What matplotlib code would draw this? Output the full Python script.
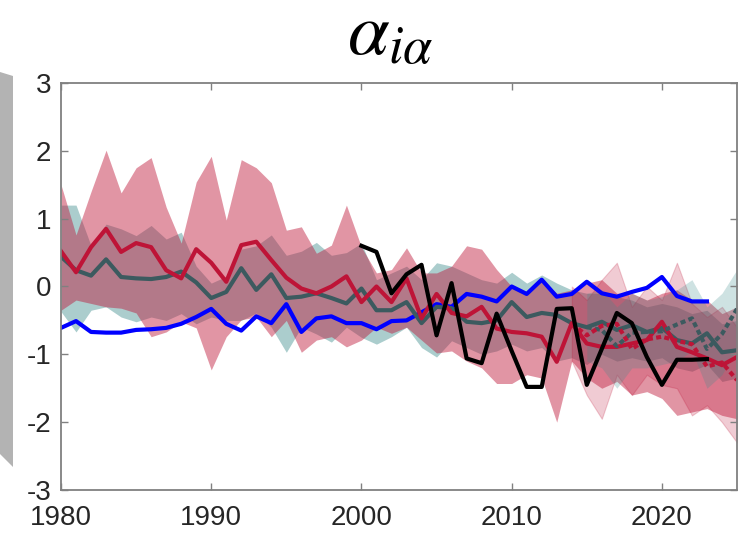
import matplotlib
matplotlib.use('Agg')
import matplotlib.pyplot as plt
from matplotlib.patches import Polygon

# Datos
years = list(range(1980, 2026))

blue_years = list(range(1980, 2024))
blue_vals = [-0.61, -0.51, -0.67, -0.68, -0.68, -0.64, -0.63, -0.61, -0.55, -0.45,
             -0.33, -0.55, -0.65, -0.44, -0.54, -0.26, -0.67, -0.47, -0.44, -0.54,
             -0.54, -0.63, -0.51, -0.50, -0.38, -0.26, -0.30, -0.11, -0.15, -0.22,
             0.00, -0.11, 0.10, -0.15, -0.11, 0.07, -0.10, -0.15, -0.08, -0.02,
             0.14, -0.14, -0.22, -0.22]

red_vals = [0.52, 0.21, 0.58, 0.85, 0.51, 0.64, 0.58, 0.24, 0.12, 0.55,
            0.35, 0.07, 0.61, 0.66, 0.39, 0.13, -0.03, -0.10, 0.00, 0.15,
            -0.23, 0.00, -0.23, 0.12, -0.47, -0.11, -0.39, -0.44, -0.30, -0.62,
            -0.67, -0.69, -0.74, -1.11, -0.54, -0.84, -0.89, -0.89, -0.84, -0.79,
            -0.52, -0.89, -0.97, -1.06, -1.16, -1.04]
red_upper = [1.50, 0.76, 1.40, 2.01, 1.38, 1.75, 1.90, 1.17, 0.64, 1.54,
             1.92, 0.98, 1.87, 1.75, 1.53, 0.83, 0.88, 0.49, 0.61, 1.20,
             0.58, 0.20, 0.25, 0.57, 0.20, 0.20, 0.30, 0.60, 0.55, 0.25,
             0.00, -0.10, 0.10, -0.10, -0.05, 0.05, 0.10, -0.10, -0.10, -0.20,
             -0.10, -0.05, -0.20, -0.20, -0.40, -0.30]
red_lower = [-0.35, -0.20, -0.25, -0.30, -0.32, -0.39, -0.74, -0.67, -0.52, -0.61,
             -1.23, -0.74, -0.49, -0.45, -0.74, -0.50, -0.97, -0.79, -0.74, -0.89,
             -0.79, -0.60, -0.69, -0.60, -0.79, -0.98, -0.95, -1.10, -1.20, -1.43,
             -1.43, -1.30, -1.35, -2.00, -1.10, -1.35, -1.50, -1.40, -1.60, -1.55,
             -1.65, -1.90, -1.85, -1.80, -1.90, -1.95]

gray_vals = [0.44, 0.24, 0.16, 0.40, 0.14, 0.12, 0.11, 0.14, 0.22, 0.06,
             -0.17, -0.08, 0.27, -0.05, 0.18, -0.17, -0.15, -0.10, -0.17, -0.25,
             -0.03, -0.35, -0.35, -0.23, -0.54, -0.30, -0.32, -0.52, -0.54, -0.50,
             -0.23, -0.45, -0.39, -0.42, -0.54, -0.60, -0.52, -0.64, -0.57, -0.67,
             -0.61, -0.79, -0.84, -0.69, -0.97, -0.94]
gray_upper = [1.20, 1.20, 0.60, 0.92, 0.85, 0.75, 0.90, 0.70, 0.80, 0.30,
              0.05, 0.15, 0.55, 0.60, 0.76, 0.46, 0.52, 0.65, 0.46, 0.50,
              0.64, 0.10, 0.20, 0.30, 0.10, 0.35, 0.30, 0.20, 0.10, 0.05,
              0.21, 0.05, 0.17, 0.05, -0.05, -0.10, -0.10, -0.15, -0.20, -0.30,
              -0.25, -0.30, -0.40, -0.35, -0.55, -0.50]
gray_lower = [-0.37, -0.67, -0.35, -0.30, -0.45, -0.52, -0.45, -0.50, -0.40, -0.55,
              -0.45, -0.50, -0.50, -0.39, -0.60, -0.97, -0.60, -0.70, -0.82, -0.60,
              -0.75, -0.85, -0.74, -0.60, -0.90, -1.04, -0.80, -0.90, -1.00, -0.95,
              -0.85, -0.95, -0.90, -1.10, -1.05, -1.15, -1.00, -1.10, -1.05, -1.10,
              -1.05, -1.20, -1.25, -1.15, -1.40, -1.35]

black_years = list(range(2000, 2024))
black_vals = [0.60, 0.51, -0.10, 0.18, 0.32, -0.72, 0.05, -1.06, -1.13, -0.40,
              -0.95, -1.48, -1.48, -0.33, -0.32, -1.45, -0.92, -0.39, -0.54, -1.04,
              -1.45, -1.08, -1.08, -1.07]

red2_years = list(range(2014, 2026))
red2_vals = [-0.55, -0.72, -0.58, -0.55, -0.92, -0.78, -0.74, -0.80, -0.85, -1.18, -1.12, -1.38]
red2_upper = [0.00, -0.20, 0.10, 0.35, -0.30, 0.00, -0.20, 0.35, -0.25, -0.45, -0.30, -0.60]
red2_lower = [-1.10, -1.60, -1.95, -1.30, -1.60, -1.30, -1.45, -1.50, -1.90, -1.75, -2.00, -2.30]

gray2_years = list(range(2015, 2026))
gray2_vals = [-0.60, -0.64, -0.88, -0.68, -0.67, -0.66, -0.56, -0.47, -0.92, -0.70, -0.33]
gray2_upper = [-0.10, -0.05, -0.30, -0.10, -0.20, -0.15, -0.05, 0.10, -0.30, -0.10, 0.25]
gray2_lower = [-1.10, -1.20, -1.50, -1.20, -1.20, -1.15, -1.10, -0.95, -1.50, -1.30, -0.90]

crimson = (190/255, 20/255, 55/255)
teal = (60/255, 140/255, 140/255)
slate = (60/255, 90/255, 95/255)

plt.rcParams['font.family'] = ['Liberation Sans', 'DejaVu Sans']
plt.rcParams['axes.unicode_minus'] = False
plt.rcParams['mathtext.fontset'] = 'stix'

fig = plt.figure(figsize=(7.48, 5.42), dpi=100)
ax = fig.add_axes([61/748, 1 - 490/542, 676/748, 407/542])

# Bandas
ax.fill_between(years, gray_lower, gray_upper, color=teal, alpha=0.43, lw=0)
ax.fill_between(years, red_lower, red_upper, color=crimson, alpha=0.45, lw=0)
ax.fill_between(red2_years, red2_lower, red2_upper, color=crimson, alpha=0.22, lw=0.8,
                edgecolor=(crimson[0], crimson[1], crimson[2], 0.3))
ax.fill_between(gray2_years, gray2_lower, gray2_upper, color=teal, alpha=0.25, lw=0)

# Líneas
lw = 3.0
ax.plot(blue_years, blue_vals, color='#0000FF', lw=lw)
ax.plot(years, gray_vals, color=slate, lw=lw)
ax.plot(years, red_vals, color=crimson, lw=lw)
ax.plot(gray2_years, gray2_vals, color=slate, lw=lw, ls=(0, (1.2, 0.8)))
ax.plot(red2_years, red2_vals, color=crimson, lw=lw, ls=(0, (1.2, 0.8)))
ax.plot(black_years, black_vals, color='black', lw=lw)

ax.set_xlim(1980, 2025)
ax.set_ylim(-3, 3)
ax.set_xticks([1980, 1990, 2000, 2010, 2020])
ax.set_yticks([-3, -2, -1, 0, 1, 2, 3])
ax.tick_params(direction='in', length=5, width=1, color='#808080',
               labelsize=20, labelcolor='#262626', top=True, right=True)
ax.tick_params(axis='x', pad=11)
ax.tick_params(axis='y', pad=7)
for sp in ax.spines.values():
    sp.set_color('#808080')
    sp.set_linewidth(1.3)

# Título
fig.text(390/748, 1 - 36/542, r'$\alpha_{i\alpha}$', fontsize=54,
         ha='center', va='center', color='black')

# Barra gris recortada a la izquierda
fig.patches.append(Polygon([(0, 1 - 72/542), (13/748, 1 - 76/542),
                            (13/748, 1 - 467/542), (0, 1 - 454/542)],
                           closed=True, transform=fig.transFigure,
                           facecolor='#b3b3b3', edgecolor='none'))

plt.savefig('out.png', dpi=100)
